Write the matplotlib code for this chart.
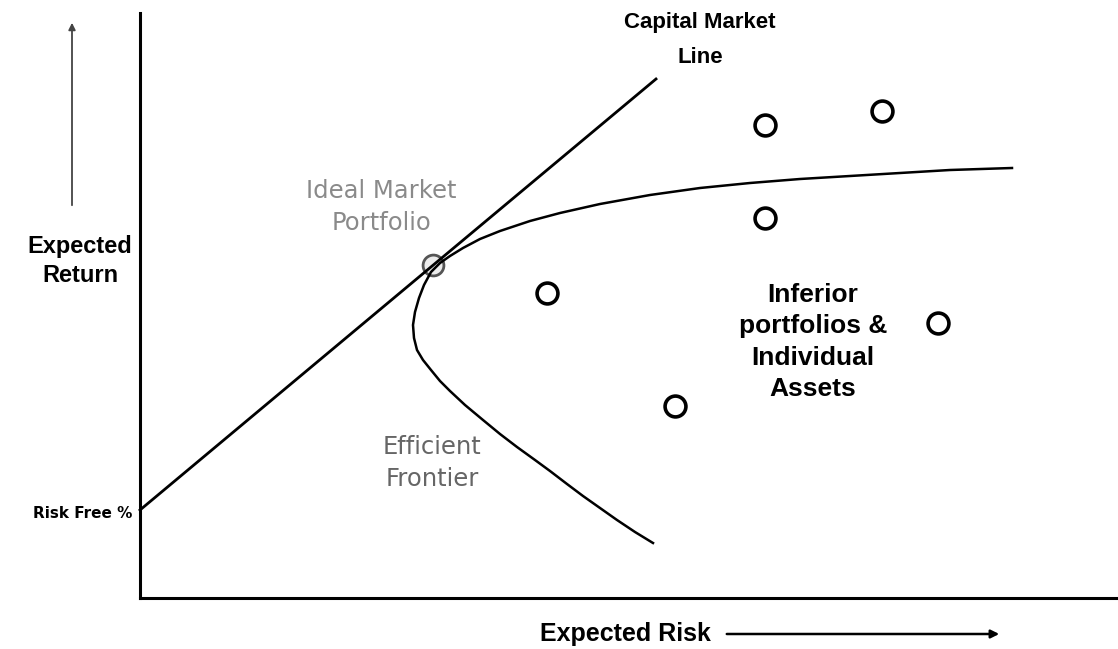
'''
Capital Market Line e Fronteira Eficiente - diagrama.
'''

import matplotlib.pyplot as plt

plt.rcParams['font.family'] = ['Liberation Sans', 'DejaVu Sans']

# Linha do mercado de capitais (risco, retorno)
cml_risco = [0, 516]
cml_retorno = [88, 519]

# Fronteira eficiente, lida ponto a ponto da figura
fronteira_risco = [872, 810, 760, 710, 660, 610, 560, 510, 460, 420, 390, 360, 340, 323,
                   310, 300, 291, 284, 279, 275, 273, 274, 277, 283, 291, 300, 310, 325,
                   343, 360, 377, 395, 410, 427, 443, 460, 477, 495, 513]
fronteira_retorno = [430, 428, 425, 422, 419, 415, 410, 403, 394, 385, 377, 367, 359, 350,
                     342, 335, 326, 313, 300, 286, 273, 260, 248, 238, 228, 217, 207, 193,
                     178, 164, 151, 138, 127, 114, 102, 90, 78, 66, 55]

# Carteira de mercado ideal
mercado_risco = [293]
mercado_retorno = [333]

# Carteiras inferiores e ativos individuais
ativos_risco = [625, 742, 625, 407, 798, 535]
ativos_retorno = [473, 487, 380, 305, 275, 192]

W, H = 1118, 649
x0, y0, ytop = 140, 598, 13

fig = plt.figure(figsize=(W / 100, H / 100), dpi=100)
ax = fig.add_axes([x0 / W, (H - y0) / H, (W - x0) / W, (y0 - ytop) / H])
ax.set_xlim(0, W - x0)
ax.set_ylim(0, y0 - ytop)
ax.set_xticks([])
ax.set_yticks([])
ax.spines['top'].set_visible(False)
ax.spines['right'].set_visible(False)
ax.spines['left'].set_linewidth(2.2)
ax.spines['bottom'].set_linewidth(2.2)


def px(x, y):
    # converte pixel da figura para coordenadas dos dados
    return x - x0, y0 - y


ax.plot(cml_risco, cml_retorno, color='black', lw=2.0, clip_on=False)
ax.plot(fronteira_risco, fronteira_retorno, color='black', lw=1.8, clip_on=False)
ax.plot(ativos_risco, ativos_retorno, 'o', ms=15, mfc='white', mec='black', mew=2.6,
        linestyle='none')
ax.plot(mercado_risco, mercado_retorno, 'o', ms=15, mfc='#ececec', mec='#555555', mew=2.0,
        linestyle='none', zorder=1)

ax.text(*px(700, 40), 'Capital Market\nLine', ha='center', va='center', fontsize=16,
        fontweight='bold', linespacing=1.9)
ax.text(*px(381, 207), 'Ideal Market\nPortfolio', ha='center', va='center', fontsize=17.5,
        color='#8a8a8a', family='DejaVu Sans', linespacing=1.45)
ax.text(*px(432, 463), 'Efficient\nFrontier', ha='center', va='center', fontsize=17.5,
        color='#666666', family='DejaVu Sans', linespacing=1.45)
ax.text(*px(813, 342), 'Inferior\nportfolios &\nIndividual\nAssets', ha='center',
        va='center', fontsize=19, fontweight='bold', linespacing=1.38)
ax.text(*px(80, 261), 'Expected\nReturn', ha='center', va='center', fontsize=17,
        fontweight='bold', linespacing=1.3, clip_on=False)
ax.text(*px(132, 514), 'Risk Free %', ha='right', va='center', fontsize=11,
        fontweight='bold', family='DejaVu Sans', clip_on=False)
ax.text(*px(625, 634), 'Expected Risk', ha='center', va='center', fontsize=18,
        fontweight='bold', clip_on=False)

# setas dos eixos
ax.annotate('', xy=px(72, 20), xytext=px(72, 208), annotation_clip=False,
            arrowprops=dict(arrowstyle='-|>', color='#444444', lw=1.3, mutation_scale=10))
ax.annotate('', xy=px(1002, 634), xytext=px(724, 634), annotation_clip=False,
            arrowprops=dict(arrowstyle='-|>', color='black', lw=1.8, mutation_scale=12))

plt.savefig('out.png', dpi=100)
